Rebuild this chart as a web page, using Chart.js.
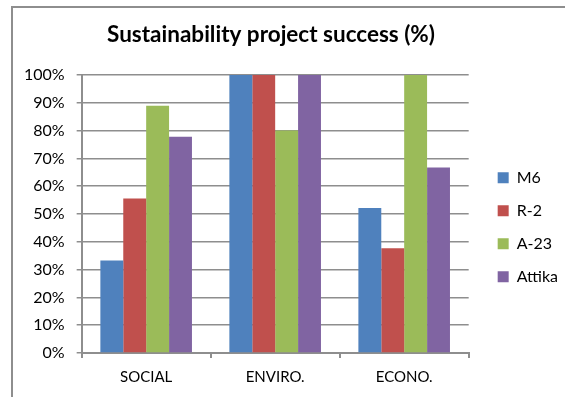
<!DOCTYPE html>
<html>
<head>
<meta charset="utf-8">
<script src="https://cdn.jsdelivr.net/npm/chart.js@4"></script>
<style>
  body { margin: 0; background: #fff; }
  #frame { position: absolute; left: 11px; top: 6px; width: 600px; height: 450px;
           border-left: 2px solid #8e8e8e; border-top: 2px solid #8e8e8e; }
  #wrap { position: absolute; left: 0; top: 0; width: 565px; height: 397px; }
</style>
</head>
<body>
<div id="frame"></div>
<div id="wrap"><canvas id="chart"></canvas></div>
<script>
const categories = ['SOCIAL', 'ENVIRO.', 'ECONO.'];
const seriesNames = ['M6', 'R-2', 'A-23', 'Attika'];
const m6 = [33.3, 100, 52.2];
const r2 = [55.6, 100, 37.7];
const a23 = [88.9, 80, 100];
const attika = [77.8, 100, 66.7];
const colors = ['#4F81BD', '#C0504D', '#9BBB59', '#8064A2'];
const chartTitle = 'Sustainability project success (%)';
const fontFamily = 'Lato, "Open Sans", sans-serif';

// the title sits centred on the frame, not on the plot+legend box
const frameTitle = {
    id: 'frameTitle',
    afterLayout(chart) {
        // push legend a bit to the right without shrinking the plot
        chart.legend.left += 12;
        chart.legend.right += 12;
    },
    afterDraw(chart) {
        const ctx = chart.ctx;
        ctx.save();
        ctx.font = 'bold 22.5px ' + fontFamily;
        ctx.fillStyle = '#000';
        ctx.textAlign = 'center';
        ctx.textBaseline = 'middle';
        ctx.fillText(chartTitle, 271, 35);
        ctx.restore();
    }
};

new Chart(document.getElementById('chart'), {
    type: 'bar',
    data: {
        labels: categories,
        datasets: [m6, r2, a23, attika].map((d, i) => ({
            label: seriesNames[i],
            data: d,
            backgroundColor: colors[i],
            borderWidth: 0,
            barPercentage: 1,
            categoryPercentage: 0.71
        }))
    },
    options: {
        responsive: true,
        maintainAspectRatio: false,
        animation: false,
        layout: {
            padding: { left: 12, right: 9, top: 75, bottom: 0 }
        },
        plugins: {
            legend: {
                position: 'right',
                fullSize: false,
                title: {
                    display: true,
                    text: ' ',
                    font: { size: 2 },
                    padding: { top: 0, bottom: 24 }
                },
                labels: {
                    color: '#000',
                    boxWidth: 11,
                    boxHeight: 11,
                    padding: 17,
                    font: { family: fontFamily, size: 16 }
                }
            },
            tooltip: { enabled: false }
        },
        scales: {
            x: {
                grid: {
                    drawOnChartArea: false,
                    color: '#8e8e8e',
                    lineWidth: 2,
                    tickLength: 5
                },
                border: { color: '#8e8e8e', width: 2 },
                ticks: {
                    color: '#000',
                    padding: 12,
                    font: { family: fontFamily, size: 15, lineHeight: 1 }
                }
            },
            y: {
                min: 0,
                max: 100,
                grid: {
                    color: '#8e8e8e',
                    lineWidth: 1.5,
                    tickLength: 5
                },
                border: { color: '#8e8e8e', width: 2 },
                ticks: {
                    stepSize: 10,
                    color: '#000',
                    padding: 12,
                    font: { family: fontFamily, size: 16 },
                    callback: function (value) {
                        return value + '%';
                    }
                }
            }
        }
    },
    plugins: [frameTitle]
});
</script>
</body>
</html>
